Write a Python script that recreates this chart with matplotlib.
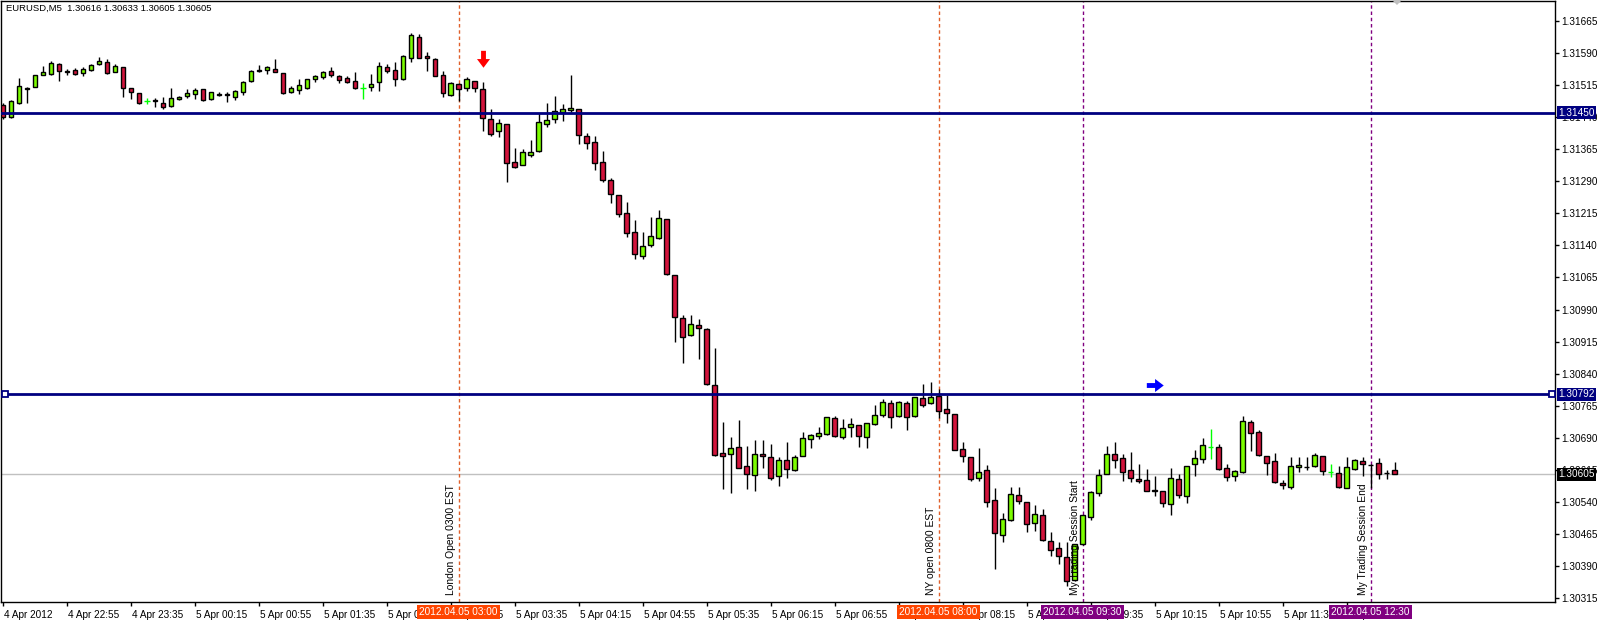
import numpy as np
import pandas as pd
import matplotlib
matplotlib.use("Agg")
import matplotlib.pyplot as plt
from matplotlib import transforms
from matplotlib.path import Path

plt.rcParams['font.family'] = ['Liberation Sans', 'DejaVu Sans']

# EURUSD M5 candles, 4 Apr 2012 22:15 -> 5 Apr 2012 12:45
opens = [1.31468, 1.31440, 1.31472, 1.31507, 1.31510, 1.31538, 1.31540, 1.31563, 1.31547, 1.31549,
         1.31542, 1.31549, 1.31563, 1.31568, 1.31545, 1.31556, 1.31507, 1.31496, 1.31477, 1.31479,
         1.31472, 1.31465, 1.31482, 1.31489, 1.31493, 1.31505, 1.31482, 1.31493, 1.31493, 1.31486,
         1.31498, 1.31524, 1.31549, 1.31549, 1.31552, 1.31542, 1.31498, 1.31503, 1.31507, 1.31528,
         1.31533, 1.31547, 1.31535, 1.31531, 1.31524, 1.31507, 1.31510, 1.31521, 1.31556, 1.31549,
         1.31528, 1.31578, 1.31627, 1.31582, 1.31575, 1.31538, 1.31491, 1.31517, 1.31507, 1.31524,
         1.31505, 1.31435, 1.31407, 1.31423, 1.31335, 1.31328, 1.31351, 1.31360, 1.31423, 1.31435,
         1.31451, 1.31456, 1.31458, 1.31395, 1.31381, 1.31335, 1.31292, 1.31257, 1.31215, 1.31171,
         1.31115, 1.31141, 1.31157, 1.31201, 1.31070, 1.30970, 1.30930, 1.30954, 1.30944, 1.30814,
         1.30655, 1.30652, 1.30669, 1.30624, 1.30603, 1.30652, 1.30645, 1.30601, 1.30638, 1.30615,
         1.30648, 1.30687, 1.30694, 1.30699, 1.30736, 1.30692, 1.30715, 1.30720, 1.30692, 1.30722,
         1.30743, 1.30771, 1.30741, 1.30771, 1.30741, 1.30783, 1.30771, 1.30788, 1.30757, 1.30746,
         1.30664, 1.30645, 1.30596, 1.30615, 1.30545, 1.30463, 1.30498, 1.30556, 1.30540, 1.30491,
         1.30510, 1.30449, 1.30433, 1.30412, 1.30358, 1.30442, 1.30505, 1.30561, 1.30606, 1.30652,
         1.30643, 1.30615, 1.30594, 1.30592, 1.30568, 1.30566, 1.30535, 1.30594, 1.30554, 1.30629,
         1.30641, 1.30669, 1.30669, 1.30620, 1.30601, 1.30610, 1.30727, 1.30704, 1.30648, 1.30636,
         1.30585, 1.30575, 1.30622, 1.30623, 1.30624, 1.30648, 1.30610, 1.30608, 1.30573, 1.30617,
         1.30636, 1.30628, 1.30631, 1.30609, 1.30616]
highs = [1.31472, 1.31479, 1.31531, 1.31510, 1.31538, 1.31559, 1.31570, 1.31566, 1.31552, 1.31554,
         1.31556, 1.31563, 1.31580, 1.31575, 1.31563, 1.31557, 1.31508, 1.31497, 1.31484, 1.31484,
         1.31486, 1.31507, 1.31489, 1.31505, 1.31507, 1.31506, 1.31499, 1.31498, 1.31498, 1.31503,
         1.31524, 1.31549, 1.31561, 1.31559, 1.31575, 1.31543, 1.31512, 1.31528, 1.31529, 1.31538,
         1.31547, 1.31556, 1.31538, 1.31535, 1.31545, 1.31519, 1.31540, 1.31568, 1.31563, 1.31568,
         1.31585, 1.31636, 1.31634, 1.31592, 1.31578, 1.31547, 1.31521, 1.31519, 1.31533, 1.31525,
         1.31521, 1.31458, 1.31435, 1.31424, 1.31367, 1.31365, 1.31386, 1.31449, 1.31472, 1.31489,
         1.31470, 1.31538, 1.31459, 1.31402, 1.31396, 1.31360, 1.31297, 1.31258, 1.31241, 1.31199,
         1.31171, 1.31206, 1.31222, 1.31202, 1.31071, 1.30977, 1.30977, 1.30968, 1.30946, 1.30900,
         1.30727, 1.30692, 1.30732, 1.30671, 1.30685, 1.30685, 1.30676, 1.30645, 1.30680, 1.30650,
         1.30704, 1.30699, 1.30715, 1.30740, 1.30741, 1.30734, 1.30736, 1.30721, 1.30726, 1.30767,
         1.30781, 1.30778, 1.30776, 1.30776, 1.30786, 1.30816, 1.30820, 1.30804, 1.30790, 1.30747,
         1.30680, 1.30646, 1.30666, 1.30627, 1.30573, 1.30514, 1.30575, 1.30575, 1.30541, 1.30533,
         1.30524, 1.30470, 1.30447, 1.30447, 1.30443, 1.30511, 1.30566, 1.30617, 1.30671, 1.30680,
         1.30652, 1.30657, 1.30629, 1.30617, 1.30601, 1.30567, 1.30620, 1.30606, 1.30625, 1.30662,
         1.30690, 1.30711, 1.30676, 1.30629, 1.30615, 1.30741, 1.30732, 1.30708, 1.30649, 1.30655,
         1.30592, 1.30645, 1.30645, 1.30645, 1.30655, 1.30649, 1.30629, 1.30624, 1.30645, 1.30641,
         1.30645, 1.30629, 1.30643, 1.30615, 1.30633]
lows = [1.31435, 1.31437, 1.31470, 1.31472, 1.31509, 1.31537, 1.31538, 1.31524, 1.31538, 1.31539,
        1.31535, 1.31547, 1.31562, 1.31541, 1.31544, 1.31486, 1.31482, 1.31471, 1.31470, 1.31463,
        1.31458, 1.31464, 1.31479, 1.31484, 1.31482, 1.31478, 1.31479, 1.31489, 1.31475, 1.31479,
        1.31491, 1.31521, 1.31546, 1.31540, 1.31544, 1.31493, 1.31495, 1.31493, 1.31506, 1.31521,
        1.31528, 1.31533, 1.31519, 1.31519, 1.31506, 1.31482, 1.31500, 1.31500, 1.31542, 1.31512,
        1.31527, 1.31568, 1.31577, 1.31547, 1.31535, 1.31486, 1.31489, 1.31477, 1.31500, 1.31498,
        1.31407, 1.31395, 1.31393, 1.31288, 1.31322, 1.31327, 1.31346, 1.31359, 1.31416, 1.31427,
        1.31430, 1.31451, 1.31377, 1.31365, 1.31316, 1.31288, 1.31239, 1.31206, 1.31159, 1.31108,
        1.31108, 1.31136, 1.31156, 1.31072, 1.30914, 1.30865, 1.30929, 1.30874, 1.30813, 1.30648,
        1.30570, 1.30561, 1.30619, 1.30570, 1.30566, 1.30620, 1.30592, 1.30578, 1.30596, 1.30614,
        1.30647, 1.30666, 1.30687, 1.30697, 1.30693, 1.30687, 1.30692, 1.30669, 1.30666, 1.30720,
        1.30739, 1.30713, 1.30739, 1.30708, 1.30739, 1.30762, 1.30770, 1.30736, 1.30725, 1.30661,
        1.30634, 1.30589, 1.30589, 1.30528, 1.30384, 1.30447, 1.30496, 1.30535, 1.30470, 1.30472,
        1.30450, 1.30414, 1.30395, 1.30344, 1.30357, 1.30441, 1.30498, 1.30554, 1.30605, 1.30620,
        1.30589, 1.30587, 1.30585, 1.30565, 1.30554, 1.30528, 1.30510, 1.30550, 1.30538, 1.30601,
        1.30631, 1.30641, 1.30616, 1.30589, 1.30589, 1.30608, 1.30659, 1.30649, 1.30603, 1.30586,
        1.30570, 1.30570, 1.30610, 1.30615, 1.30623, 1.30603, 1.30599, 1.30574, 1.30572, 1.30615,
        1.30601, 1.30573, 1.30594, 1.30594, 1.30605]
closes = [1.31440, 1.31477, 1.31512, 1.31506, 1.31538, 1.31545, 1.31566, 1.31547, 1.31546, 1.31540,
          1.31552, 1.31561, 1.31570, 1.31542, 1.31559, 1.31507, 1.31498, 1.31472, 1.31477, 1.31478,
          1.31463, 1.31484, 1.31486, 1.31496, 1.31503, 1.31479, 1.31498, 1.31492, 1.31491, 1.31500,
          1.31521, 1.31547, 1.31548, 1.31556, 1.31545, 1.31496, 1.31507, 1.31514, 1.31528, 1.31535,
          1.31545, 1.31538, 1.31526, 1.31521, 1.31507, 1.31507, 1.31517, 1.31559, 1.31547, 1.31528,
          1.31582, 1.31631, 1.31578, 1.31578, 1.31536, 1.31496, 1.31519, 1.31505, 1.31528, 1.31507,
          1.31437, 1.31400, 1.31426, 1.31332, 1.31323, 1.31358, 1.31358, 1.31428, 1.31433, 1.31454,
          1.31458, 1.31461, 1.31398, 1.31379, 1.31332, 1.31292, 1.31260, 1.31213, 1.31169, 1.31120,
          1.31138, 1.31162, 1.31204, 1.31073, 1.30972, 1.30926, 1.30956, 1.30947, 1.30816, 1.30650,
          1.30648, 1.30666, 1.30620, 1.30606, 1.30652, 1.30648, 1.30596, 1.30638, 1.30617, 1.30645,
          1.30690, 1.30697, 1.30701, 1.30739, 1.30694, 1.30713, 1.30722, 1.30694, 1.30725, 1.30743,
          1.30774, 1.30739, 1.30774, 1.30739, 1.30785, 1.30767, 1.30785, 1.30753, 1.30748, 1.30662,
          1.30648, 1.30594, 1.30610, 1.30540, 1.30468, 1.30500, 1.30559, 1.30542, 1.30489, 1.30512,
          1.30451, 1.30428, 1.30414, 1.30356, 1.30442, 1.30510, 1.30564, 1.30603, 1.30652, 1.30638,
          1.30610, 1.30596, 1.30589, 1.30566, 1.30567, 1.30538, 1.30596, 1.30556, 1.30624, 1.30643,
          1.30673, 1.30669, 1.30617, 1.30599, 1.30613, 1.30729, 1.30701, 1.30650, 1.30631, 1.30587,
          1.30580, 1.30624, 1.30627, 1.30622, 1.30650, 1.30613, 1.30610, 1.30575, 1.30622, 1.30638,
          1.30629, 1.30627, 1.30606, 1.30608, 1.30605]

times = pd.date_range('2012-04-04 22:15', periods=len(opens), freq='5min')

# horizontal levels, session lines, signal arrows
levels = [1.31450, 1.30792]
last_price = 1.30605
session_lines = [('2012-04-05 03:00', 'London Open 0300 EST', '#e0602a'),
                 ('2012-04-05 08:00', 'NY open 0800 EST', '#e0602a'),
                 ('2012-04-05 09:30', 'My Trading Session Start', '#800080'),
                 ('2012-04-05 12:30', 'My Trading Session End', '#800080')]
sell_arrow = ('2012-04-05 03:15', 1.31576)
buy_arrow = ('2012-04-05 10:15', 1.30814)

price_ticks = [1.31665, 1.31590, 1.31515, 1.31440, 1.31365, 1.31290, 1.31215, 1.31140, 1.31065,
               1.30990, 1.30915, 1.30840, 1.30765, 1.30690, 1.30615, 1.30540, 1.30465, 1.30390, 1.30315]

bull = '#7cfc00'
bear = '#d2143c'
doji = '#00ff00'
navy = '#000080'

W, H = 1597, 621
fig = plt.figure(figsize=(W / 100, H / 100), dpi=100)
ax = fig.add_axes([0.5 / W, 19 / H, 1554.5 / W, 601.5 / H])

o = np.array(opens); h = np.array(highs); l = np.array(lows); c = np.array(closes)
x = np.arange(len(o))
flat = o == c

ax.vlines(x[~flat], l[~flat], h[~flat], color='black', lw=1, zorder=3)
ax.vlines(x[flat], l[flat], h[flat], color=doji, lw=1, zorder=3)
ax.hlines(c[flat], x[flat] - 0.35, x[flat] + 0.35, color=doji, lw=1, zorder=3)
up = (c > o)
dn = (c < o)
ax.bar(x[up], c[up] - o[up], bottom=o[up], width=0.55, color=bull, edgecolor='black', lw=1, zorder=4)
ax.bar(x[dn], c[dn] - o[dn], bottom=o[dn], width=0.55, color=bear, edgecolor='black', lw=1, zorder=4)

ax.set_xlim(-0.28, 194.05)
ax.set_ylim(1.303068, 1.317122)

# levels
for lv in levels:
    ax.axhline(lv, color=navy, lw=2, zorder=5)
ax.axhline(last_price, color='#c0c0c0', lw=1, zorder=2)
ax.plot([0.003, 0.998], [levels[1], levels[1]], ls='none', marker='s', ms=4.5,
        mfc='white', mec=navy, mew=1.3, transform=transforms.blended_transform_factory(ax.transAxes, ax.transData),
        zorder=6, clip_on=False)

# session lines
xt = transforms.blended_transform_factory(ax.transData, ax.transAxes)
for t, lab, col in session_lines:
    i = times.get_loc(pd.Timestamp(t))
    ax.axvline(i, color=col, lw=1, ls=(0, (2.5, 2)), zorder=2)
    ax.text(i - 0.35, 0.012, lab, rotation=90, ha='right', va='bottom', fontsize=7.4,
            transform=xt, zorder=6)
    ax.text(i, -0.0165, pd.Timestamp(t).strftime('%Y.%m.%d %H:%M'), color='white', fontsize=7.2,
            ha='center', va='center', transform=xt, clip_on=False, zorder=10,
            bbox=dict(boxstyle='square,pad=0.22', fc='#ff4500' if col != '#800080' else '#800080', ec='none'))

# arrows (wingdings-like markers)
down_verts = [(-0.28, 1.0), (0.28, 1.0), (0.28, 0.05), (0.75, 0.05), (0.0, -0.95), (-0.75, 0.05), (-0.28, 0.05), (-0.28, 1.0)]
down_arrow = Path(down_verts, closed=True)
right_arrow = Path([(-vy, vx) for vx, vy in down_verts], closed=True)
i_s = times.get_loc(pd.Timestamp(sell_arrow[0]))
ax.plot([i_s], [sell_arrow[1]], ls='none', marker=down_arrow, ms=12.5, color='red', mew=0, zorder=7)
i_b = times.get_loc(pd.Timestamp(buy_arrow[0]))
ax.plot([i_b], [buy_arrow[1]], ls='none', marker=right_arrow, ms=12.5, color='#0000ff', mew=0, zorder=7)

# axes look
for s in ax.spines.values():
    s.set_color('black')
    s.set_linewidth(1)
ax.yaxis.tick_right()
ax.set_yticks(price_ticks)
ax.set_yticklabels([f'{p:.5f}' for p in price_ticks])
ax.tick_params(axis='y', direction='out', length=3, width=1, pad=1.8, labelsize=7.2, right=True, left=False)

tick_idx = list(range(0, len(times), 8))
tick_lab = ['4 Apr 2012'] + [f'{times[k].day} {times[k]:%b %H:%M}' for k in tick_idx[1:]]
ax.set_xticks(tick_idx)
ax.set_xticklabels(tick_lab, ha='left')
ax.tick_params(axis='x', direction='out', length=3, width=1, pad=2.5, labelsize=7.2)
offset = transforms.ScaledTranslation(1.5 / 100, 0, fig.dpi_scale_trans)
for lab in ax.get_xticklabels():
    lab.set_transform(lab.get_transform() + offset)

# right-hand price boxes
yt = transforms.blended_transform_factory(ax.transAxes, ax.transData)
for lv, fc in [(levels[0], navy), (levels[1], navy), (last_price, 'black')]:
    ax.text(1.0 + 3 / 1554.5, lv, f'{lv:.5f}', color='white', fontsize=7.2, ha='left', va='center',
            transform=yt, clip_on=False, zorder=10,
            bbox=dict(boxstyle='square,pad=0.15', fc=fc, ec='none'))

# chart-shift marker and title
fig.patches.append(plt.Polygon([[1392 / W, 1.0], [1402 / W, 1.0], [1397 / W, 1 - 5 / H]],
                               closed=True, fc='#c0c0c0', ec='none', transform=fig.transFigure))
fig.text(6 / W, 1 - 8 / H, 'EURUSD,M5  1.30616 1.30633 1.30605 1.30605', fontsize=6.8,
         ha='left', va='center')

fig.savefig('out.png', dpi=100)
